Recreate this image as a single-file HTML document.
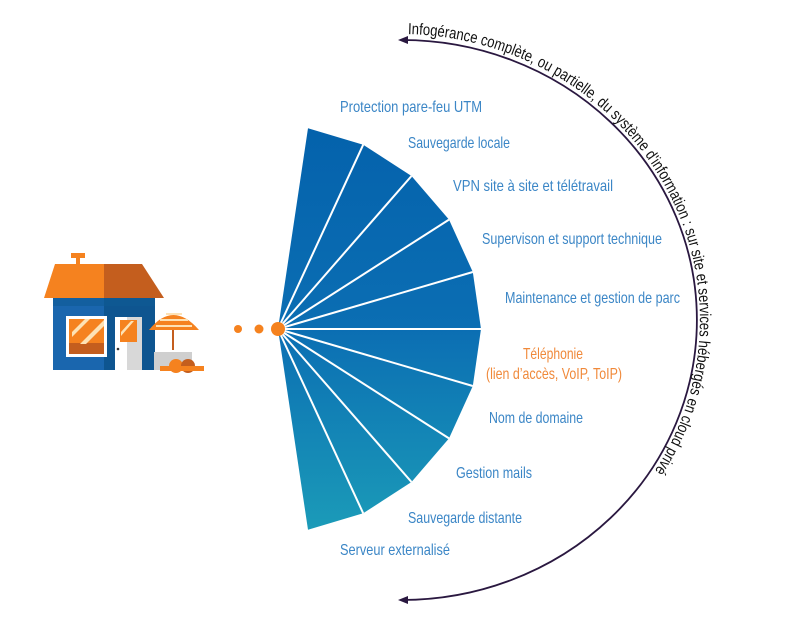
<!DOCTYPE html>
<html><head><meta charset="utf-8"><style>
html,body{margin:0;padding:0;background:#fff;}
svg{display:block}
.l{font-family:"Liberation Sans Narrow","Liberation Sans",sans-serif;font-size:16px;fill:#3b86c6}
</style></head><body>
<svg width="800" height="621" viewBox="0 0 800 621" xmlns="http://www.w3.org/2000/svg">
<defs>
<linearGradient id="g" x1="0" y1="128" x2="0" y2="530" gradientUnits="userSpaceOnUse">
<stop offset="0" stop-color="#0462ac"/><stop offset="0.5" stop-color="#0b6eb3"/><stop offset="1" stop-color="#1b9bb8"/>
</linearGradient>
<path id="tp" d="M 400 34 A 300 286 0 0 1 400 606" fill="none"/>
</defs>
<path d="M 402 40 A 295 280 0 0 1 402 600" fill="none" stroke="#2a1840" stroke-width="1.8"/>
<path d="M 398 40 L 408 36 L 408 44 Z" fill="#2a1840"/>
<path d="M 398 600 L 408 596 L 408 604 Z" fill="#2a1840"/>
<text font-family="Liberation Sans Narrow, Liberation Sans, sans-serif" font-size="16" fill="#111"><textPath href="#tp" startOffset="8" textLength="612" lengthAdjust="spacingAndGlyphs">Infogérance complète, ou partielle, du système d'information : sur site et services hébergés en cloud privé</textPath></text>
<path d="M278 329 L308 128.2 L363.2 144.7 L411.5 176 L449 219.6 L472.8 272 L481 329 L472.8 386 L449 438.4 L411.5 482 L363.2 513.3 L308 529.8 Z" fill="url(#g)"/>
<g stroke="#fff" stroke-width="2">
<line x1="278" y1="329" x2="363.2" y2="144.7"/>
<line x1="278" y1="329" x2="411.5" y2="176"/>
<line x1="278" y1="329" x2="449" y2="219.6"/>
<line x1="278" y1="329" x2="472.8" y2="272"/>
<line x1="278" y1="329" x2="481" y2="329"/>
<line x1="278" y1="329" x2="472.8" y2="386"/>
<line x1="278" y1="329" x2="449" y2="438.4"/>
<line x1="278" y1="329" x2="411.5" y2="482"/>
<line x1="278" y1="329" x2="363.2" y2="513.3"/>
</g>
<circle cx="278" cy="329" r="7" fill="#f5821f"/>
<circle cx="259" cy="329" r="4.5" fill="#f5821f"/>
<circle cx="238" cy="329" r="4" fill="#f5821f"/>
<text class="l" x="340" y="112" textLength="142" lengthAdjust="spacingAndGlyphs">Protection pare-feu UTM</text>
<text class="l" x="408" y="148" textLength="102" lengthAdjust="spacingAndGlyphs">Sauvegarde locale</text>
<text class="l" x="453" y="191" textLength="160" lengthAdjust="spacingAndGlyphs">VPN site à site et  télétravail</text>
<text class="l" x="482" y="244" textLength="180" lengthAdjust="spacingAndGlyphs">Supervison et support technique</text>
<text class="l" x="505" y="303" textLength="175" lengthAdjust="spacingAndGlyphs">Maintenance et gestion de parc</text>
<text class="l" x="523" y="359" textLength="60" lengthAdjust="spacingAndGlyphs" style="fill:#f0893a">Téléphonie</text>
<text class="l" x="486" y="379" textLength="136" lengthAdjust="spacingAndGlyphs" style="fill:#f0893a">(lien d’accès, VoIP, ToIP)</text>
<text class="l" x="489" y="423" textLength="94" lengthAdjust="spacingAndGlyphs">Nom de domaine</text>
<text class="l" x="456" y="478" textLength="76" lengthAdjust="spacingAndGlyphs">Gestion mails</text>
<text class="l" x="408" y="523" textLength="114" lengthAdjust="spacingAndGlyphs">Sauvegarde distante</text>
<text class="l" x="340" y="555" textLength="110" lengthAdjust="spacingAndGlyphs">Serveur externalisé</text>
<rect x="71" y="253" width="14" height="5" fill="#f5821f"/>
<rect x="76" y="257" width="4" height="8" fill="#f5821f"/>
<path d="M55 264 L104 264 L104 298 L44 298 Z" fill="#f5821f"/>
<path d="M104 264 L142 264 L164 298 L104 298 Z" fill="#c45e1e"/>
<rect x="53" y="298" width="51" height="72" fill="#1a66ae"/>
<rect x="104" y="298" width="51" height="72" fill="#0e5590"/>
<rect x="53" y="298" width="102" height="8" fill="#0f5a95" opacity="0.6"/>
<rect x="66" y="316" width="41" height="41" fill="#fff"/>
<rect x="69" y="319" width="35" height="35" fill="#f5821f"/>
<rect x="69" y="343" width="35" height="11" fill="#c45e1e"/>
<path d="M72 332 L85 319 L90 319 L72 337 Z M80 344 L104 320 L104 326 L86 344 Z" fill="#fde2b5"/>
<rect x="115" y="317" width="27" height="53" fill="#fff"/>
<rect x="127" y="317" width="15" height="53" fill="#d8d8d8"/>
<rect x="120" y="320" width="17" height="22" fill="#f5821f"/>
<path d="M121 332 L131 321 L134 321 L121 336 Z" fill="#fde2b5"/>
<circle cx="118" cy="349" r="1.3" fill="#333"/>
<path d="M149 330 Q173 300 199 330 Z" fill="#f5821f"/>
<path d="M156 326 L192 326 M160 320 L188 320 M166 314 L182 314" stroke="#fde2b5" stroke-width="2"/>
<rect x="172" y="330" width="2" height="20" fill="#c45e1e"/>
<rect x="154" y="352" width="38" height="18" fill="#cfcfcf"/>
<circle cx="176" cy="366" r="7" fill="#f5821f"/>
<circle cx="188" cy="366" r="7" fill="#c45e1e"/>
<rect x="160" y="366" width="44" height="5" fill="#f5821f"/>
</svg>
</body></html>
